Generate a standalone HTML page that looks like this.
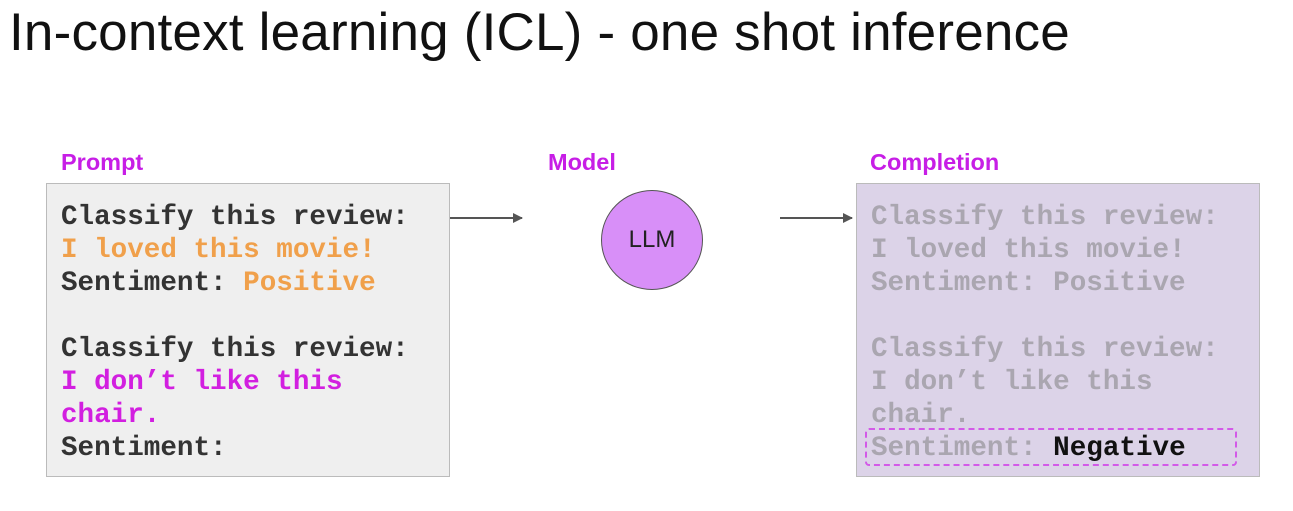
<!DOCTYPE html><html><head><style>
body{margin:0;width:1293px;height:511px;background:#fff;position:relative;overflow:hidden;font-family:"Liberation Sans",sans-serif}
.t{position:absolute;left:9px;top:2px;font-size:53px;color:#111;letter-spacing:0.2px}
.lab{position:absolute;font-size:23.5px;font-weight:bold;color:#c71ee6;top:149px}
.box{position:absolute;top:183px;width:404px;height:294px;border:1px solid #bbb;box-sizing:border-box}
pre{margin:0;position:absolute;left:14px;top:17px;font-family:"Liberation Mono",monospace;font-weight:bold;font-size:27.6px;line-height:33px;color:#333}
.o{color:#f0a04b}.p{color:#d21fe0}
</style></head><body>
<div class="t">In-context learning (ICL) - one shot inference</div>
<div class="lab" style="left:61px">Prompt</div>
<div class="lab" style="left:548px">Model</div>
<div class="lab" style="left:870px">Completion</div>
<div class="box" style="left:46px;background:#efefef"><pre>Classify this review:
<span class="o">I loved this movie!</span>
Sentiment: <span class="o">Positive</span>

Classify this review:
<span class="p">I don’t like this
chair.</span>
Sentiment:</pre></div>
<div class="box" style="left:856px;background:#dcd3e8"><pre style="color:#aaa6b0">Classify this review:
I loved this movie!
Sentiment: Positive

Classify this review:
I don’t like this
chair.
Sentiment: <span style="color:#111">Negative</span></pre>
<div style="position:absolute;left:8px;top:244px;width:368px;height:34px;border:2px dashed #d35ae8;border-radius:4px"></div></div>
<div style="position:absolute;left:601px;top:190px;width:102px;height:100px;border-radius:50%;background:#d88ff8;border:1.5px solid #555;box-sizing:border-box;text-align:center;line-height:97px;font-size:24px;color:#222">LLM</div>
<svg width="1293" height="511" style="position:absolute;left:0;top:0">
<defs><marker id="a" markerWidth="10" markerHeight="10" refX="9" refY="5" orient="auto" markerUnits="userSpaceOnUse"><path d="M0,0L10,5L0,10z" fill="#555"/></marker></defs>
<line x1="450" y1="218" x2="522" y2="218" stroke="#555" stroke-width="2" marker-end="url(#a)"/>
<line x1="780" y1="218" x2="852" y2="218" stroke="#555" stroke-width="2" marker-end="url(#a)"/>
</svg>
</body></html>
